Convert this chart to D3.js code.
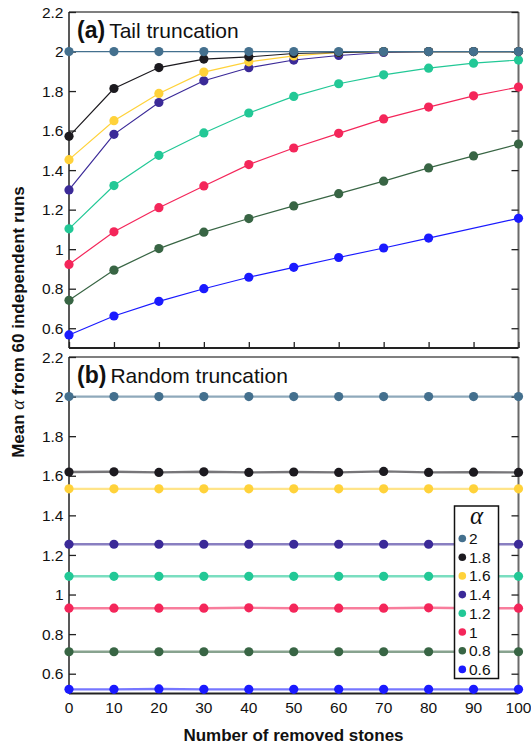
<!DOCTYPE html>
<html>
<head>
<meta charset="utf-8">
<script src="https://cdn.jsdelivr.net/npm/d3@7"></script>
<style>
  body { margin: 0; background: #fff; }
  svg text { font-family: "Liberation Sans", Arial, sans-serif; }
</style>
</head>
<body>
<div id="chart"></div>
<script>
// removed stones (x) and the alpha groups
var stones = [0, 10, 20, 30, 40, 50, 60, 70, 80, 90, 100];
var alphas = ["2", "1.8", "1.6", "1.4", "1.2", "1", "0.8", "0.6"];
var colors = ["#44708e", "#1c1a1f", "#ffd23a", "#3b2a98", "#22c896", "#f4265a", "#386544", "#1a1aff"];

// (a) tail truncation, one array per alpha
var tail2   = [2, 2, 2, 2, 2, 2, 2, 2, 2, 2, 2];
var tail18  = [1.571, 1.813, 1.919, 1.962, 1.973, 1.99, 1.995, 2, 2, 2, 2];
var tail16  = [1.453, 1.65, 1.788, 1.896, 1.948, 1.978, 1.995, 2, 2, 2, 2];
var tail14  = [1.30, 1.581, 1.742, 1.852, 1.918, 1.957, 1.98, 1.995, 2, 2, 2];
var tail12  = [1.103, 1.322, 1.475, 1.588, 1.689, 1.773, 1.837, 1.882, 1.916, 1.941, 1.957];
var tail10  = [0.923, 1.088, 1.21, 1.32, 1.428, 1.512, 1.586, 1.659, 1.719, 1.776, 1.82];
var tail08  = [0.741, 0.894, 1.003, 1.086, 1.155, 1.219, 1.281, 1.344, 1.411, 1.472, 1.532];
var tail06  = [0.566, 0.662, 0.736, 0.8, 0.858, 0.908, 0.958, 1.006, 1.056, null, 1.156];

// (b) random truncation
var rand2   = [2, 2, 2, 2, 2, 2, 2, 2, 2, 2, 2];
var rand18  = [1.619, 1.620, 1.617, 1.620, 1.617, 1.619, 1.617, 1.622, 1.617, 1.618, 1.617];
var rand16  = [1.534, 1.534, 1.534, 1.534, 1.534, 1.534, 1.534, 1.534, 1.534, 1.534, 1.534];
var rand14  = [1.254, 1.254, 1.254, 1.254, 1.254, 1.254, 1.254, 1.254, 1.254, 1.254, 1.254];
var rand12  = [1.092, 1.092, 1.092, 1.092, 1.092, 1.092, 1.092, 1.092, 1.092, 1.092, 1.092];
var rand10  = [0.931, 0.931, 0.931, 0.931, 0.933, 0.931, 0.931, 0.931, 0.933, 0.931, 0.931];
var rand08  = [0.711, 0.711, 0.711, 0.711, 0.711, 0.711, 0.711, 0.711, 0.711, 0.711, 0.711];
var rand06  = [0.521, 0.521, 0.523, 0.521, 0.521, 0.521, 0.521, 0.521, 0.521, 0.521, 0.521];

var yTicks = [0.6, 0.8, 1, 1.2, 1.4, 1.6, 1.8, 2, 2.2];

var panels = [
    {label: "(a)", title: "Tail truncation", series: [tail2, tail18, tail16, tail14, tail12, tail10, tail08, tail06],
     top: 12, bottom: 348, lineWidth: 1.2, lineOpacity: 1, xLabels: false},
    {label: "(b)", title: "Random truncation", series: [rand2, rand18, rand16, rand14, rand12, rand10, rand08, rand06],
     top: 357, bottom: 693.5, lineWidth: 2.4, lineOpacity: 0.6, xLabels: true}
];

var left = 69, right = 518.5;

var svg = d3.select("#chart")
    .append("svg")
    .attr("width", 531)
    .attr("height", 747);

var x = d3.scaleLinear().domain([0, 100]).range([left, right]);

panels.forEach(function(p) {
    var y = d3.scaleLinear().domain([0.5, 2.2]).range([p.bottom, p.top]);
    var g = svg.append("g");

    // box: top and right a bit lighter
    g.append("line").attr("x1", left).attr("x2", right).attr("y1", p.top).attr("y2", p.top)
        .style("stroke", "#555").style("stroke-width", 1.5);
    g.append("line").attr("x1", right).attr("x2", right).attr("y1", p.top).attr("y2", p.bottom)
        .style("stroke", "#6a6a6a").style("stroke-width", 2);

    // left axis, ticks inside
    var yl = g.append("g")
        .attr("transform", "translate(" + left + ",0)")
        .call(d3.axisRight(y).tickValues(yTicks).tickSize(7).tickFormat(""));
    yl.select(".domain").remove();
    yl.selectAll(".tick line").style("stroke", "#222").style("stroke-width", 1.3);

    // right axis ticks inside
    var yr = g.append("g")
        .attr("transform", "translate(" + right + ",0)")
        .call(d3.axisLeft(y).tickValues(yTicks).tickSize(7).tickFormat(""));
    yr.select(".domain").remove();
    yr.selectAll(".tick line").style("stroke", "#222").style("stroke-width", 1.3);

    // y labels
    g.selectAll(".ylab")
        .data(yTicks).enter()
        .append("text")
        .attr("x", left - 5.5)
        .attr("y", function(d) { return y(d); })
        .attr("dy", "0.36em")
        .attr("text-anchor", "end")
        .style("font-size", "15.5px")
        .style("fill", "#111")
        .text(function(d) { return d; });

    // bottom axis, ticks inside
    var xa = g.append("g")
        .attr("transform", "translate(0," + p.bottom + ")")
        .call(d3.axisTop(x).tickValues(stones).tickSize(6).tickFormat(""));
    xa.select(".domain").remove();
    xa.selectAll(".tick line").style("stroke", "#222").style("stroke-width", 1.3);

    g.append("line").attr("x1", left).attr("x2", right).attr("y1", p.bottom).attr("y2", p.bottom)
        .style("stroke", "#222").style("stroke-width", 1.8);
    g.append("line").attr("x1", left).attr("x2", left).attr("y1", p.top).attr("y2", p.bottom)
        .style("stroke", "#222").style("stroke-width", 1.5);

    if (p.xLabels) {
        g.selectAll(".xlab")
            .data(stones).enter()
            .append("text")
            .attr("x", function(d) { return x(d); })
            .attr("y", p.bottom + 19.5)
            .attr("text-anchor", "middle")
            .style("font-size", "15.5px")
            .style("fill", "#111")
            .text(function(d) { return d; });
    }

    // panel label
    var lab = g.append("text")
        .attr("x", left + 8)
        .attr("y", p.top + 25.5)
        .style("fill", "#111");
    lab.append("tspan").style("font-weight", "bold").style("font-size", "23px").text(p.label);
    lab.append("tspan").attr("dx", 4).style("font-size", "21px").text(p.title);

    // lines and dots, lowest alpha first so alpha=2 sits on top
    var line = d3.line()
        .x(function(d) { return x(d[0]); })
        .y(function(d) { return y(d[1]); });

    for (var i = p.series.length - 1; i >= 0; i--) {
        var pts = stones.map(function(s, j) { return [s, p.series[i][j]]; });
        var defined = pts.filter(function(d) { return d[1] !== null; });
        g.append("path")
            .datum(defined)
            .attr("d", line)
            .style("fill", "none")
            .style("stroke", colors[i])
            .style("stroke-width", p.lineWidth)
            .style("opacity", p.lineOpacity);
        g.selectAll(".dot" + i)
            .data(defined).enter()
            .append("circle")
            .attr("cx", function(d) { return x(d[0]); })
            .attr("cy", function(d) { return y(d[1]); })
            .attr("r", 4.6)
            .style("fill", colors[i]);
    }
});

// axis titles
svg.append("text")
    .attr("x", 293.5)
    .attr("y", 741)
    .attr("text-anchor", "middle")
    .style("font-size", "17px")
    .style("font-weight", "bold")
    .style("fill", "#111")
    .text("Number of removed stones");

var yt = svg.append("text")
    .attr("transform", "translate(24,322) rotate(-90)")
    .attr("text-anchor", "middle")
    .style("font-size", "17px")
    .style("font-weight", "bold")
    .style("fill", "#111");
yt.append("tspan").text("Mean ");
yt.append("tspan").style("font-family", "'Liberation Serif', serif").style("font-style", "italic")
    .style("font-weight", "normal").style("font-size", "19px").text("α");
yt.append("tspan").text(" from 60 independent runs");

// legend
var legend = svg.append("g").attr("id", "legend");
legend.append("rect")
    .attr("x", 454.5).attr("y", 506)
    .attr("width", 44).attr("height", 172.5)
    .style("fill", "white")
    .style("stroke", "#111")
    .style("stroke-width", 1.5);
legend.append("text")
    .attr("x", 476.5).attr("y", 524)
    .attr("text-anchor", "middle")
    .style("font-family", "'Liberation Serif', serif")
    .style("font-style", "italic")
    .style("font-size", "25px")
    .style("fill", "#111")
    .text("α");
legend.selectAll("circle")
    .data(alphas).enter()
    .append("circle")
    .attr("cx", 462.3)
    .attr("cy", function(d, i) { return 538.5 + i * 18.7; })
    .attr("r", 3.8)
    .style("fill", function(d, i) { return colors[i]; });
legend.selectAll(".leg")
    .data(alphas).enter()
    .append("text")
    .attr("x", 469)
    .attr("y", function(d, i) { return 538.5 + i * 18.7; })
    .attr("dy", "0.36em")
    .style("font-size", "15.5px")
    .style("fill", "#111")
    .text(function(d) { return d; });
</script>
</body>
</html>
